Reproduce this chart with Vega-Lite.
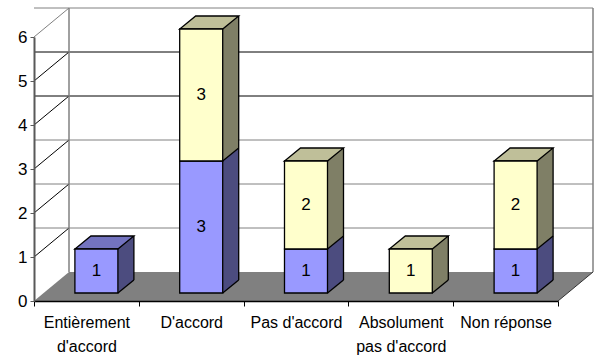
{
  "$schema": "https://vega.github.io/schema/vega-lite/v6.json",
  "width": 524,
  "height": 264,
  "autosize": {"type": "none"},
  "padding": {"left": 34, "top": 37, "right": 36, "bottom": 58},
  "background": "white",
  "config": {"view": {"stroke": null}, "font": "Liberation Sans"},
  "datasets": {
    "answers": [
      {"cat": "Entièrement d'accord", "s": "s1", "n": 1},
      {"cat": "D'accord", "s": "s1", "n": 3},
      {"cat": "D'accord", "s": "s2", "n": 3},
      {"cat": "Pas d'accord", "s": "s1", "n": 1},
      {"cat": "Pas d'accord", "s": "s2", "n": 2},
      {"cat": "Absolument pas d'accord", "s": "s2", "n": 1},
      {"cat": "Non réponse", "s": "s1", "n": 1},
      {"cat": "Non réponse", "s": "s2", "n": 2}
    ],
    "ticks": [{"v": 1}, {"v": 2}, {"v": 3}, {"v": 4}, {"v": 5}, {"v": 6}]
  },
  "layer": [
    {
      "data": {"values": [{}]},
      "mark": {"type": "point", "shape": "M0,0L524,0L559,-29L35,-29Z", "size": 4, "filled": true, "fill": "#808080", "opacity": 1, "strokeWidth": 0},
      "encoding": {
        "x": {"datum": "Entièrement d'accord", "type": "nominal", "bandPosition": 0},
        "y": {"datum": 0, "type": "quantitative"}
      }
    },
    {
      "data": {"name": "ticks"},
      "mark": {"type": "rule", "xOffset": 35, "x2Offset": 35, "yOffset": -29, "strokeWidth": 1},
      "encoding": {
        "y": {"field": "v", "type": "quantitative"},
        "color": {"condition": {"test": "datum.v === 4 || datum.v === 5", "value": "#000000"}, "value": "#808080"}
      }
    },
    {
      "data": {"name": "ticks"},
      "mark": {"type": "point", "shape": "M0,0L35,-29", "size": 4, "filled": false, "opacity": 1, "strokeWidth": 1},
      "encoding": {
        "x": {"datum": "Entièrement d'accord", "type": "nominal", "bandPosition": 0},
        "y": {"field": "v", "type": "quantitative"},
        "stroke": {"condition": {"test": "datum.v === 6", "value": "#808080"}, "value": "#000000"}
      }
    },
    {
      "data": {"values": [{}]},
      "mark": {"type": "rule", "xOffset": 35, "yOffset": -29, "y2Offset": -29, "stroke": "#808080", "strokeWidth": 1.5},
      "encoding": {
        "x": {"datum": "Entièrement d'accord", "type": "nominal", "bandPosition": 0},
        "y": {"datum": 0, "type": "quantitative"},
        "y2": {"datum": 6}
      }
    },
    {
      "data": {"values": [{}]},
      "mark": {"type": "rule", "xOffset": 35, "yOffset": -29, "y2Offset": -29, "stroke": "#808080", "strokeWidth": 1.5},
      "encoding": {
        "x": {"datum": "Non réponse", "type": "nominal", "bandPosition": 1},
        "y": {"datum": 0, "type": "quantitative"},
        "y2": {"datum": 6}
      }
    },
    {
      "data": {"values": [{}]},
      "mark": {"type": "point", "shape": "M0,0L35,-29", "size": 4, "filled": false, "opacity": 1, "stroke": "#333333", "strokeWidth": 1},
      "encoding": {
        "x": {"datum": "Non réponse", "type": "nominal", "bandPosition": 1},
        "y": {"datum": 0, "type": "quantitative"}
      }
    },
    {
      "data": {"name": "answers"},
      "transform": [
        {"stack": "n", "groupby": ["cat"], "sort": [{"field": "s", "order": "ascending"}], "as": ["y0", "y1"]},
        {"joinaggregate": [{"op": "max", "field": "y1", "as": "top"}], "groupby": ["cat"]},
        {"calculate": "(datum.y0 + datum.y1) / 2", "as": "mid"}
      ],
      "layer": [
        {
          "mark": {"type": "bar", "size": 43, "xOffset": 26, "yOffset": -21, "y2Offset": -21, "strokeWidth": 0},
          "encoding": {
            "x": {
              "field": "cat", "type": "nominal",
              "scale": {"domain": ["Entièrement d'accord", "D'accord", "Pas d'accord", "Absolument pas d'accord", "Non réponse"], "paddingInner": 0, "paddingOuter": 0},
              "axis": {
                "title": null, "orient": "bottom", "domainColor": "#000000", "domainWidth": 1.5,
                "tickColor": "#000000", "tickWidth": 1, "tickSize": 5, "tickBand": "extent", "bandPosition": 0.5,
                "labelAngle": 0, "labelAlign": "center", "labelFontSize": 16, "labelColor": "#000000", "labelPadding": 16,
                "labelLineHeight": 24, "labelFont": "Liberation Sans", "zindex": 1,
                "labelExpr": "length(datum.label) > 14 ? [slice(datum.label, 0, indexof(datum.label, ' ')), slice(datum.label, indexof(datum.label, ' ') + 1)] : datum.label"
              }
            },
            "y": {
              "field": "y1", "type": "quantitative",
              "scale": {"domain": [0, 6], "nice": false},
              "axis": {
                "title": null, "values": [0, 1, 2, 3, 4, 5, 6], "grid": false, "format": "d",
                "domainColor": "#595959", "domainWidth": 2, "tickColor": "#595959", "tickSize": 4,
                "labelFontSize": 17, "labelColor": "#000000", "labelPadding": 3, "labelFont": "Liberation Sans", "zindex": 1
              }
            },
            "y2": {"field": "y0"},
            "fill": {"condition": {"test": "datum.s === 's1'", "value": "#4C4C7F"}, "value": "#7F7F66"}
          }
        },
        {
          "transform": [{"filter": "datum.y1 === datum.top"}],
          "mark": {"type": "point", "shape": "M-21.5,0L21.5,0L37.5,-13L-5.5,-13Z", "size": 4, "filled": true, "opacity": 1, "xOffset": 10, "yOffset": -8, "stroke": "#000000", "strokeWidth": 1.3, "strokeJoin": "miter"},
          "encoding": {
            "x": {"field": "cat", "type": "nominal"},
            "y": {"field": "y1", "type": "quantitative"},
            "fill": {"condition": {"test": "datum.s === 's1'", "value": "#7373BF"}, "value": "#BFBF99"}
          }
        },
        {
          "mark": {"type": "point", "shape": "M21.5,0L21.5,-13L37.5,-13Z", "size": 4, "filled": true, "opacity": 1, "xOffset": 10, "yOffset": -8, "strokeWidth": 0},
          "encoding": {
            "x": {"field": "cat", "type": "nominal"},
            "y": {"field": "y0", "type": "quantitative"},
            "fill": {"condition": {"test": "datum.s === 's1'", "value": "#4C4C7F"}, "value": "#7F7F66"}
          }
        },
        {
          "mark": {"type": "bar", "size": 43, "xOffset": 10, "yOffset": -8, "y2Offset": -8, "stroke": "#000000", "strokeWidth": 1.3},
          "encoding": {
            "x": {"field": "cat", "type": "nominal"},
            "y": {"field": "y1", "type": "quantitative"},
            "y2": {"field": "y0"},
            "fill": {"condition": {"test": "datum.s === 's1'", "value": "#9999FF"}, "value": "#FFFFCC"}
          }
        },
        {
          "mark": {"type": "point", "shape": "M21.5,0L37.5,-13", "size": 4, "filled": false, "opacity": 1, "xOffset": 10, "yOffset": -8, "stroke": "#000000", "strokeWidth": 1.3},
          "encoding": {
            "x": {"field": "cat", "type": "nominal"},
            "y": {"field": "y0", "type": "quantitative"}
          }
        },
        {
          "mark": {"type": "rule", "xOffset": 47.5, "yOffset": -21, "y2Offset": -21, "stroke": "#000000", "strokeWidth": 1.3},
          "encoding": {
            "x": {"field": "cat", "type": "nominal"},
            "y": {"field": "y1", "type": "quantitative"},
            "y2": {"field": "y0"}
          }
        },
        {
          "mark": {"type": "text", "xOffset": 10, "yOffset": -8, "fontSize": 17, "font": "Liberation Sans", "align": "center", "baseline": "middle", "color": "#000000"},
          "encoding": {
            "x": {"field": "cat", "type": "nominal"},
            "y": {"field": "mid", "type": "quantitative"},
            "text": {"field": "n", "type": "quantitative"}
          }
        }
      ]
    }
  ]
}
